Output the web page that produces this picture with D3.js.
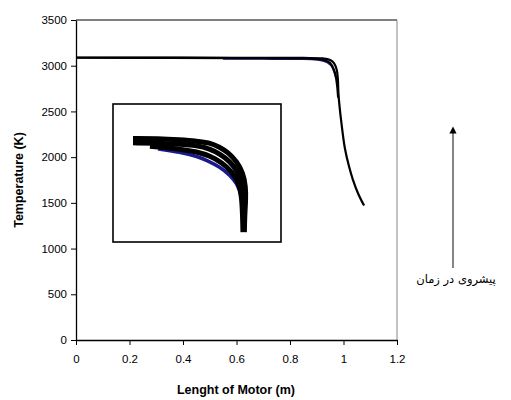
<!DOCTYPE html>
<html>
<head>
<meta charset="utf-8">
<script src="https://cdn.jsdelivr.net/npm/d3@7"></script>
<style>
  body { margin: 0; background: #fff; }
  text { font-family: "Liberation Sans", Arial, sans-serif; }
</style>
</head>
<body>
<div id="chart"></div>
<script>
// main curves (length m, temperature K)
var upperX = [0, 0.3, 0.6, 0.85, 0.92, 0.95, 0.965, 0.975, 0.979, 0.981, 0.985, 0.992, 1.005, 1.02, 1.035, 1.055, 1.077];
var upperT = [3090, 3089, 3087, 3085, 3080, 3062, 3025, 2950, 2850, 2700, 2560, 2380, 2100, 1905, 1755, 1600, 1470];
var lowerX = [0, 0.3, 0.6, 0.85, 0.9, 0.93, 0.95, 0.962, 0.972, 0.977, 0.98];
var lowerT = [3087, 3086, 3084, 3080, 3074, 3060, 3030, 2970, 2870, 2760, 2650];
var blueX = [0.55, 0.7, 0.85, 0.91, 0.94, 0.96, 0.972];
var blueT = [3076, 3075, 3073, 3062, 3035, 2975, 2870];

// inset (zoom of the knee)
var inUpX = [0.9119, 0.9268, 0.9399, 0.95, 0.9577, 0.9630, 0.9685, 0.9738, 0.9774, 0.9790, 0.9790, 0.9784, 0.9782];
var inUpT = [3040, 3040, 3037, 3034, 3030, 3021, 3008, 2986, 2960, 2928, 2897, 2863, 2823];
var inMidX = [0.9119, 0.9268, 0.9399, 0.95, 0.9577, 0.9637, 0.9696, 0.9744, 0.9768, 0.9776, 0.9776];
var inMidT = [3030, 3029, 3027, 3024, 3016, 3004, 2987, 2963, 2935, 2898, 2823];
var inLowX = [0.9220, 0.9399, 0.95, 0.9577, 0.9649, 0.9708, 0.9744, 0.9768, 0.9774];
var inLowT = [3022, 3016, 3009, 3000, 2984, 2963, 2940, 2910, 2823];
var inBlueX = [0.9268, 0.9399, 0.95, 0.956, 0.9637, 0.9696, 0.9738, 0.9768, 0.9774];
var inBlueT = [3016, 3008, 2999, 2989, 2974, 2955, 2936, 2905, 2865];

var xTicks = [0, 0.2, 0.4, 0.6, 0.8, 1, 1.2];
var yTicks = [0, 500, 1000, 1500, 2000, 2500, 3000, 3500];

var W = 511, H = 400;
var svg = d3.select('#chart').append('svg').attr('width', W).attr('height', H);

var x = d3.scaleLinear().domain([0, 1.2]).range([76, 397]);
var y = d3.scaleLinear().domain([0, 3500]).range([340, 20]);

// frame top/right
svg.append('line').attr('x1', 76).attr('x2', 397).attr('y1', 20).attr('y2', 20)
  .attr('stroke', '#000').attr('stroke-width', 1);
svg.append('line').attr('x1', 397).attr('x2', 397).attr('y1', 20).attr('y2', 340)
  .attr('stroke', '#888').attr('stroke-width', 1);

var xAxis = svg.append('g').attr('transform', 'translate(0,340)')
  .call(d3.axisBottom(x).tickValues(xTicks).tickSize(5).tickSizeOuter(0).tickPadding(10)
    .tickFormat(d => String(+d.toFixed(1))));
var yAxis = svg.append('g').attr('transform', 'translate(76,0)')
  .call(d3.axisLeft(y).tickValues(yTicks).tickSize(5).tickSizeOuter(0).tickPadding(4)
    .tickFormat(d3.format('d')));
[xAxis, yAxis].forEach(function(a) {
  a.selectAll('path').attr('stroke', '#000').attr('stroke-width', 1.3);
  a.selectAll('line').attr('stroke', '#000');
  a.selectAll('text').attr('fill', '#000').style('font-size', '11.5px')
    .style('font-family', '"Liberation Sans", Arial, sans-serif');
});

svg.append('text').attr('x', 236).attr('y', 394).attr('text-anchor', 'middle')
  .style('font-size', '12.5px').style('font-weight', 'bold').text('Lenght of Motor (m)');
svg.append('text').attr('transform', 'translate(23,180) rotate(-90)').attr('text-anchor', 'middle')
  .style('font-size', '12.5px').style('font-weight', 'bold').text('Temperature (K)');

function pts(xs, ts) { return xs.map((v, i) => [v, ts[i]]); }

var line = d3.line().x(d => x(d[0])).y(d => y(d[1])).curve(d3.curveMonotoneX);
var smooth = d3.line().x(d => x(d[0])).y(d => y(d[1])).curve(d3.curveCatmullRom.alpha(0.5));
svg.append('path').attr('d', line(pts(blueX, blueT))).attr('fill', 'none')
  .attr('stroke', '#1a1a8c').attr('stroke-width', 2);
svg.append('path').attr('d', line(pts(lowerX, lowerT))).attr('fill', 'none')
  .attr('stroke', '#000').attr('stroke-width', 2.2);
svg.append('path').attr('d', smooth(pts(upperX, upperT)))
  .attr('fill', 'none').attr('stroke', '#000').attr('stroke-width', 2.2);

// inset
svg.append('rect').attr('x', 113).attr('y', 104).attr('width', 168).attr('height', 138)
  .attr('fill', '#fff').attr('stroke', '#000').attr('stroke-width', 1.6);
var ix = d3.scaleLinear().domain([0.9, 1.0]).range([113, 281]);
var iy = d3.scaleLinear().domain([2800, 3120]).range([242, 104]);
var iline = d3.line().x(d => ix(d[0])).y(d => iy(d[1])).curve(d3.curveBasis);
svg.append('path').attr('d', iline(pts(inBlueX, inBlueT))).attr('fill', 'none')
  .attr('stroke', '#1a1a8c').attr('stroke-width', 3.5);
[[inLowX, inLowT], [inMidX, inMidT], [inUpX, inUpT]].forEach(function(s) {
  svg.append('path').attr('d', iline(pts(s[0], s[1]))).attr('fill', 'none')
    .attr('stroke', '#000').attr('stroke-width', 5);
});

// arrow + persian note
svg.append('defs').append('marker').attr('id', 'ah').attr('viewBox', '0 0 10 10')
  .attr('refX', 5).attr('refY', 5).attr('markerWidth', 6).attr('markerHeight', 6)
  .attr('orient', 'auto')
  .append('path').attr('d', 'M0,0 L10,5 L0,10 z').attr('fill', '#000');
svg.append('line').attr('x1', 453).attr('x2', 453).attr('y1', 268).attr('y2', 130)
  .attr('stroke', '#333').attr('stroke-width', 1.2).attr('marker-end', 'url(#ah)');
svg.append('text').attr('x', 456).attr('y', 283).attr('text-anchor', 'middle')
  .attr('direction', 'rtl').style('font-family', '"DejaVu Sans", sans-serif')
  .style('font-size', '11.5px').text('پیشروی در زمان');
</script>
</body>
</html>
